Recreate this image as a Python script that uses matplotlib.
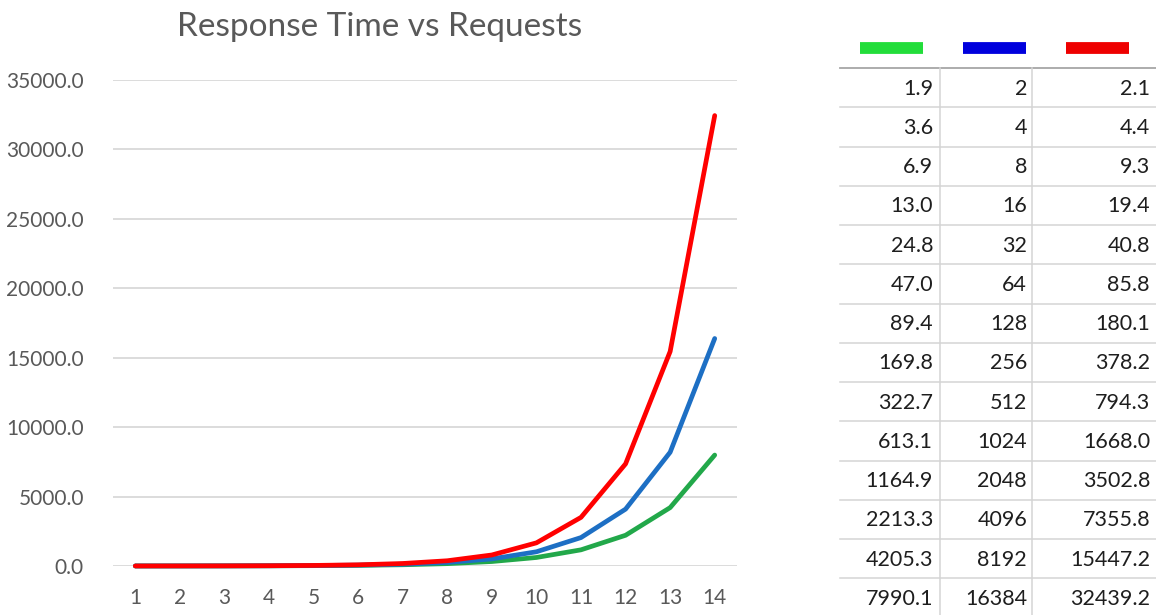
import matplotlib
matplotlib.use("Agg")
import matplotlib.pyplot as plt
from matplotlib.ticker import FormatStrFormatter

plt.rcParams['font.family'] = ['Lato', 'DejaVu Sans']

# Request counts (category positions) and response times per configuration
requests = list(range(1, 15))
green_times = [1.9, 3.6, 6.9, 13.0, 24.8, 47.0, 89.4, 169.8, 322.7, 613.1,
               1164.9, 2213.3, 4205.3, 7990.1]
blue_times = [2, 4, 8, 16, 32, 64, 128, 256, 512, 1024, 2048, 4096, 8192, 16384]
red_times = [2.1, 4.4, 9.3, 19.4, 40.8, 85.8, 180.1, 378.2, 794.3, 1668.0,
             3502.8, 7355.8, 15447.2, 32439.2]
y_ticks = [0, 5000, 10000, 15000, 20000, 25000, 30000, 35000]

title = "Response Time vs Requests"
line_colors = ["#22a84a", "#1d6fc4", "#ff0000"]
swatch_colors = ["#22dd3a", "#0000dd", "#ee0000"]

W, H = 1156, 615
fig = plt.figure(figsize=(W / 100, H / 100), dpi=100)
fig.patch.set_facecolor("white")

# ---- line chart ----
ax = fig.add_axes([113 / W, (H - 566) / H, 624 / W, 486 / H])
for series, col in zip([green_times, blue_times, red_times], line_colors):
    ax.plot(requests, series, color=col, lw=3.4, solid_capstyle="round",
            solid_joinstyle="round", clip_on=False, zorder=3)
ax.set_xlim(0.5, 14.5)
ax.set_ylim(0, 35000)
ax.set_yticks(y_ticks)
ax.set_xticks(requests)
ax.yaxis.set_major_formatter(FormatStrFormatter("%.1f"))
ax.grid(axis="y", color="#d9d9d9", lw=1.3, zorder=0)
ax.set_axisbelow(True)
for s in ax.spines.values():
    s.set_visible(False)
ax.tick_params(axis="both", length=0, labelsize=15, labelcolor="#595959")
ax.tick_params(axis="y", pad=21)
ax.tick_params(axis="x", pad=16)
fig.text(380 / W, 1 - 27 / H, title, ha="center", va="center",
         fontsize=24, color="#595959")

# ---- data table ----
tab = fig.add_axes([0, 0, 1, 1], zorder=-1)
tab.set_xlim(0, W)
tab.set_ylim(H, 0)
tab.axis("off")

x_left, x_right = 840, 1160
col_edges = [840, 940, 1032, 1160]
text_right = [933, 1027, 1150]
header_line = 68
row_h = 39.25
swatch_x = [(860, 923), (963, 1026), (1066, 1129)]
swatch_y = 47.5

for (x0, x1), col in zip(swatch_x, swatch_colors):
    tab.plot([x0, x1], [swatch_y, swatch_y], color=col, lw=8.5,
             solid_capstyle="butt")

n_rows = len(requests)
bottom = header_line + row_h * n_rows
tab.plot([x_left, x_right], [header_line, header_line], color="#a6a6a6", lw=1.3)
for i in range(1, n_rows + 1):
    y = header_line + row_h * i
    tab.plot([x_left, x_right], [y, y], color="#d4d4d4", lw=1.1)
for xe in col_edges[1:3]:
    tab.plot([xe, xe], [header_line, bottom], color="#d4d4d4", lw=1.1)

columns = [[f"{v:.1f}" for v in green_times],
           [f"{v:d}" for v in blue_times],
           [f"{v:.1f}" for v in red_times]]
for c, vals in enumerate(columns):
    for i, s in enumerate(vals):
        tab.text(text_right[c], header_line + row_h * (i + 0.5) + 1, s,
                 ha="right", va="center", fontsize=15.5, color="#1e1e1e")

fig.savefig("out.png", dpi=100, facecolor="white")
